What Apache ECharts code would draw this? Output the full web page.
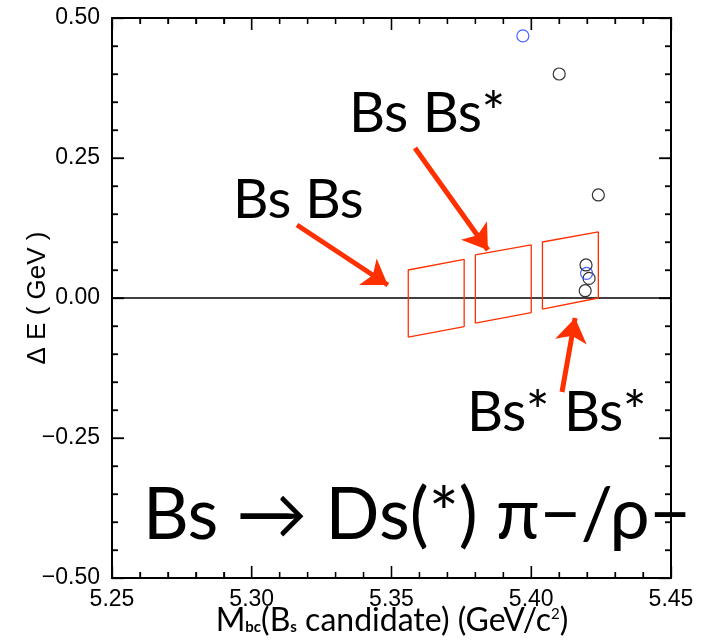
<!DOCTYPE html>
<html>
<head>
<meta charset="utf-8">
<script src="https://cdn.jsdelivr.net/npm/echarts@6/dist/echarts.min.js"></script>
<style>html,body{margin:0;padding:0;background:#fff}#c{width:703px;height:642px}</style>
</head>
<body>
<div id="c"></div>
<script>
// ---- data ----
const blueX = [5.397, 5.4198];
const blueY = [0.468, 0.044];
const blackX = [5.410, 5.424, 5.4196, 5.4207, 5.4193];
const blackY = [0.400, 0.184, 0.059, 0.035, 0.013];
const boxLabels = ['Bs Bs', 'Bs Bs*', 'Bs* Bs*'];
const boxXLeft = [5.356, 5.380, 5.404];
const boxXRight = [5.376, 5.400, 5.424];
const boxLowLeft = [-0.070, -0.045, -0.020];
const boxLowRight = [-0.051, -0.026, 0.000];
const boxHighLeft = [0.050, 0.077, 0.100];
const boxHighRight = [0.069, 0.095, 0.118];
// arrows (start -> tip) in data coordinates
const arrowStartX = [5.3162, 5.3584, 5.4110];
const arrowStartY = [0.1304, 0.2679, -0.1679];
const arrowEndX = [5.3487, 5.3845, 5.4157];
const arrowEndY = [0.0232, 0.0857, -0.0357];
// axes and tick values
const xRange = [5.25, 5.45];
const yRange = [-0.5, 0.5];
const zeroLevel = 0;
const xMajorTicks = [5.25, 5.30, 5.35, 5.40, 5.45];
const xMinorTicks = [5.26, 5.27, 5.28, 5.29, 5.31, 5.32, 5.33, 5.34, 5.36, 5.37, 5.38, 5.39, 5.41, 5.42, 5.43, 5.44];
const yMajorTicks = [-0.50, -0.25, 0.00, 0.25, 0.50];
const yMinorTicks = [-0.45, -0.40, -0.35, -0.30, -0.20, -0.15, -0.10, -0.05, 0.05, 0.10, 0.15, 0.20, 0.30, 0.35, 0.40, 0.45];

const RED = '#ff3000';
const chart = echarts.init(document.getElementById('c'));

const fmtX = v => v.toFixed(2);
const fmtY = v => (v < -1e-9 ? '\u2212' : '') + Math.abs(v).toFixed(2);

function axisCommon(extra) {
  return Object.assign({
    type: 'value',
    axisLine: {show: true, onZero: false, lineStyle: {color: '#000', width: 2}},
    axisTick: {show: true, inside: true, length: 12, lineStyle: {color: '#000', width: 1.3}},
    minorTick: {show: true, splitNumber: 5, length: 6, lineStyle: {color: '#000', width: 1.3}},
    splitLine: {show: false},
    minorSplitLine: {show: false}
  }, extra);
}

const boxSeries = boxXLeft.map((_, i) => ({
  type: 'line',
  name: boxLabels[i],
  xAxisIndex: 0, yAxisIndex: 0,
  data: [
    [boxXLeft[i], boxLowLeft[i]],
    [boxXLeft[i], boxHighLeft[i]],
    [boxXRight[i], boxHighRight[i]],
    [boxXRight[i], boxLowRight[i]],
    [boxXLeft[i], boxLowLeft[i]]
  ],
  symbol: 'none',
  lineStyle: {color: RED, width: 1.3},
  silent: true,
  z: 3
}));

const tickStyle = {stroke: '#000', lineWidth: 1.3};
// x ticks on bottom and top edges, pointing inward
function xTickSeries(values, len) {
  return {
    type: 'custom', coordinateSystem: 'cartesian2d', xAxisIndex: 0, yAxisIndex: 0,
    silent: true, clip: false, z: 10,
    data: values.map(v => [v, yRange[0]]),
    renderItem: (params, api) => {
      const b = api.coord([api.value(0), yRange[0]]);
      const t = api.coord([api.value(0), yRange[1]]);
      return {type: 'group', children: [
        {type: 'line', shape: {x1: b[0], y1: b[1], x2: b[0], y2: b[1] - len}, style: tickStyle},
        {type: 'line', shape: {x1: t[0], y1: t[1], x2: t[0], y2: t[1] + len}, style: tickStyle}
      ]};
    }
  };
}
// y ticks on left and right edges, pointing inward
function yTickSeries(values, len) {
  return {
    type: 'custom', coordinateSystem: 'cartesian2d', xAxisIndex: 0, yAxisIndex: 0,
    silent: true, clip: false, z: 10,
    data: values.map(v => [xRange[0], v]),
    renderItem: (params, api) => {
      const l = api.coord([xRange[0], api.value(1)]);
      const r = api.coord([xRange[1], api.value(1)]);
      return {type: 'group', children: [
        {type: 'line', shape: {x1: l[0], y1: l[1], x2: l[0] + len, y2: l[1]}, style: tickStyle},
        {type: 'line', shape: {x1: r[0], y1: r[1], x2: r[0] - len, y2: r[1]}, style: tickStyle}
      ]};
    }
  };
}

const gridBox = {left: 112, right: 32, top: 18, bottom: 64, containLabel: false};

chart.setOption({
  animation: false,
  grid: [Object.assign({}, gridBox), Object.assign({}, gridBox)],
  xAxis: [
    axisCommon({
      gridIndex: 0, position: 'bottom', min: xRange[0], max: xRange[1], interval: 0.05,
      axisLabel: {formatter: fmtX, color: '#000', fontFamily: 'Liberation Sans', fontSize: 23, margin: 10}
    }),
    axisCommon({
      gridIndex: 1, position: 'top', min: xRange[0], max: xRange[1], interval: 0.05,
      axisLabel: {show: false}
    })
  ],
  yAxis: [
    axisCommon({
      gridIndex: 0, position: 'left', min: yRange[0], max: yRange[1], interval: 0.25,
      axisLabel: {formatter: fmtY, color: '#000', fontFamily: 'Liberation Sans', fontSize: 23, margin: 12}
    }),
    axisCommon({
      gridIndex: 1, position: 'right', min: yRange[0], max: yRange[1], interval: 0.25,
      axisLabel: {show: false}
    })
  ],
  series: [
    {
      type: 'line', name: 'zero',
      xAxisIndex: 1, yAxisIndex: 1,
      data: [[xRange[0], zeroLevel], [xRange[1], zeroLevel]],
      symbol: 'none',
      lineStyle: {color: '#000', width: 1.5},
      silent: true, z: 2
    },
    ...boxSeries,
    {
      type: 'scatter', name: 'black',
      xAxisIndex: 0, yAxisIndex: 0,
      data: blackX.map((x, i) => [x, blackY[i]]),
      symbol: 'circle', symbolSize: 12,
      itemStyle: {color: 'rgba(0,0,0,0)', borderColor: '#000', borderWidth: 1.2},
      silent: true, z: 4
    },
    {
      type: 'scatter', name: 'blue',
      xAxisIndex: 0, yAxisIndex: 0,
      data: blueX.map((x, i) => [x, blueY[i]]),
      symbol: 'circle', symbolSize: 12,
      itemStyle: {color: 'rgba(0,0,0,0)', borderColor: '#1a3cff', borderWidth: 1.2},
      silent: true, z: 5
    },
    {
      type: 'lines', name: 'arrows',
      coordinateSystem: 'cartesian2d',
      xAxisIndex: 0, yAxisIndex: 0,
      data: arrowStartX.map((_, i) => ({
        coords: [[arrowStartX[i], arrowStartY[i]], [arrowEndX[i], arrowEndY[i]]]
      })),
      symbol: ['none', 'arrow'],
      symbolSize: 24,
      lineStyle: {color: RED, width: 5, opacity: 1, curveness: 0},
      itemStyle: {color: RED},
      silent: true, z: 6
    },
    xTickSeries(xMajorTicks, 12),
    xTickSeries(xMinorTicks, 6),
    yTickSeries(yMajorTicks, 12),
    yTickSeries(yMinorTicks, 6)
  ],
  graphic: [
    {type: 'text', x: 38, y: 298, rotation: Math.PI / 2,
     style: {text: '\u0394 E ( GeV )', font: '26px "Liberation Sans"', fill: '#000', align: 'center', verticalAlign: 'middle'}},
    {type: 'text', x: 392, y: 621,
     style: {
       text: 'M{sub|bc}(B{sub|s} candidate) (GeV/c{sup|2})',
       font: '32px Lato', fill: '#000', align: 'center', verticalAlign: 'middle',
       rich: {
         sub: {fontSize: 15, fontFamily: 'Lato', fontWeight: 'bold', padding: [12, 0, 0, 0]},
         sup: {fontSize: 15, fontFamily: 'Lato', padding: [0, 0, 14, 0]}
       }
     }},
    {type: 'text', x: 233, y: 200,
     style: {text: 'Bs Bs', font: '55px Lato', fill: '#000', align: 'left', verticalAlign: 'middle'}},
    {type: 'text', x: 349, y: 114,
     style: {text: 'Bs Bs*', font: '56px Lato', fill: '#000', align: 'left', verticalAlign: 'middle'}},
    {type: 'text', x: 467, y: 413,
     style: {text: 'Bs* Bs*', font: '56px Lato', fill: '#000', align: 'left', verticalAlign: 'middle'}},
    {type: 'text', x: 143, y: 516,
     style: {text: 'Bs \u2192 Ds(*) \u03c0\u2212/\u03c1\u2212', font: '71px Lato', fill: '#000', align: 'left', verticalAlign: 'middle'}}
  ]
});
</script>
</body>
</html>
